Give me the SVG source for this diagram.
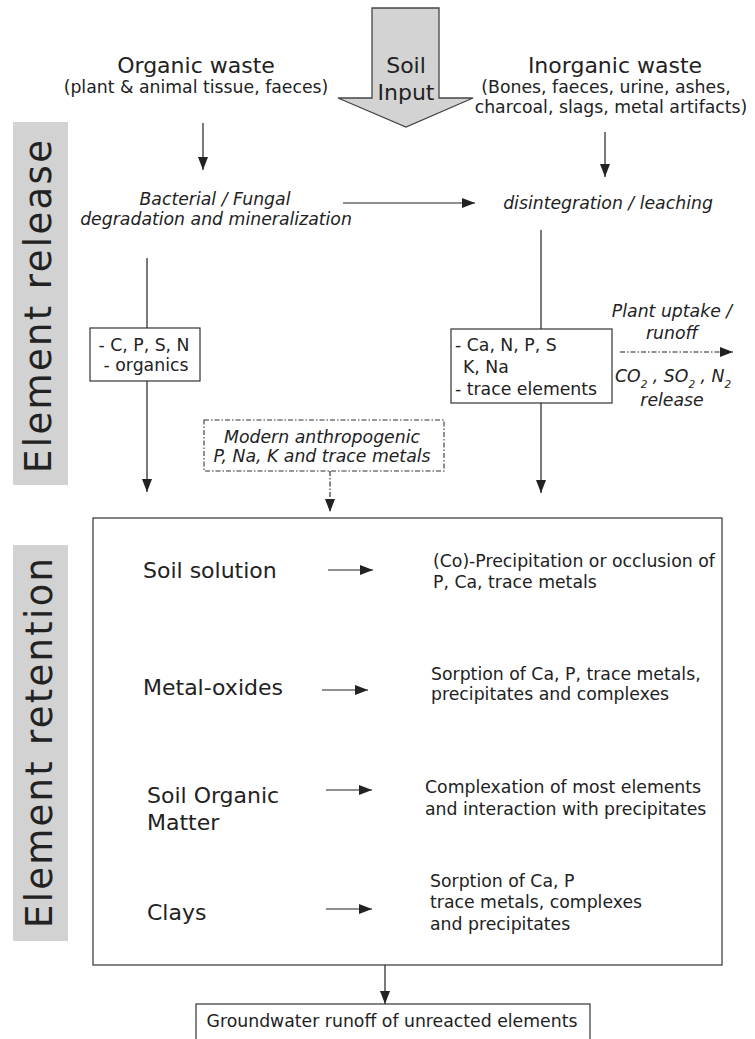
<svg xmlns="http://www.w3.org/2000/svg" width="755" height="1039" viewBox="0 0 755 1039">
<defs>
<style>
text{font-family:"DejaVu Sans","Liberation Sans",sans-serif;fill:#222;}
.h{font-size:22px;}
.s{font-size:17.3px;}
.i{font-size:17.3px;font-style:italic;}
.m{text-anchor:middle;}
.v{font-size:37px;fill:#222;}
.line{stroke:#222;stroke-width:1.2;fill:none;}
.dd{stroke:#222;stroke-width:1.1;fill:none;stroke-dasharray:5 2 1.5 2;}
.box{fill:#fff;stroke:#333;stroke-width:1.2;}
.band{fill:#d2d2d2;}
</style>
<marker id="ah" markerWidth="13" markerHeight="10" refX="13" refY="5" orient="auto" markerUnits="userSpaceOnUse"><path d="M0,0 L13,5 L0,10 z" fill="#222"/></marker>
</defs>
<rect width="755" height="1039" fill="#fff"/>

<g id="band-release"><rect class="band" x="13" y="122" width="55" height="363"/><text class="v" transform="translate(51,473) rotate(-90)" textLength="333">Element release</text></g>
<g id="band-retention"><rect class="band" x="13" y="545" width="55" height="396"/><text class="v" transform="translate(52,928) rotate(-90)" textLength="370">Element retention</text></g>

<g id="soil-input"><polygon points="372,8 439,8 439,98 473,98 406,127 338,98 372,98" fill="#d3d3d3" stroke="#444" stroke-width="1.3"/><text class="h m" x="406" y="73">Soil</text><text class="h m" x="406" y="100">Input</text></g>

<g id="organic-waste"><text class="h m" x="196" y="73">Organic waste</text><text class="s m" x="196" y="93">(plant &amp; animal tissue, faeces)</text></g>
<g id="inorganic-waste"><text class="h m" x="615" y="73">Inorganic waste</text><text class="s m" x="606" y="93">(Bones, faeces, urine, ashes,</text><text class="s m" x="611" y="113">charcoal, slags, metal artifacts)</text></g>

<g id="degradation"><text class="i m" x="215" y="205">Bacterial / Fungal</text><text class="i m" x="216" y="225">degradation and mineralization</text></g>
<g id="disintegration"><text class="i m" x="608" y="209">disintegration / leaching</text></g>

<g id="organic-elements"><rect class="box" x="90" y="328" width="110" height="53"/><text class="s m" x="144" y="351">- C, P, S, N</text><text class="s m" x="146" y="371">- organics</text></g>
<g id="inorganic-elements"><rect class="box" x="451" y="329" width="161" height="74"/><text class="s" x="455" y="351">- Ca, N, P, S</text><text class="s" x="463" y="373">K, Na</text><text class="s" x="455" y="395">- trace elements</text></g>

<g id="plant-uptake"><text class="i m" x="672" y="317">Plant uptake /</text><text class="i m" x="672" y="339">runoff</text><text class="i" x="615" y="382">CO<tspan font-size="10.5" dy="6">2</tspan><tspan dy="-6"> , SO</tspan><tspan font-size="10.5" dy="6">2</tspan><tspan dy="-6"> , N</tspan><tspan font-size="10.5" dy="6">2</tspan></text><text class="i m" x="672" y="406">release</text></g>

<g id="modern"><rect x="204" y="420" width="240" height="51" fill="#fff" stroke="#333" stroke-width="1.1" stroke-dasharray="5 2 1.5 2"/><text class="i m" x="322" y="443">Modern anthropogenic</text><text class="i m" x="322" y="462">P, Na, K and trace metals</text></g>

<g id="retention-box"><rect class="box" x="93" y="518" width="629" height="447"/>
<text class="h" x="143" y="578">Soil solution</text>
<text class="s" x="433" y="567">(Co)-Precipitation or occlusion of</text><text class="s" x="433" y="588">P, Ca, trace metals</text>
<text class="h" x="143" y="695">Metal-oxides</text>
<text class="s" x="431" y="680">Sorption of Ca, P, trace metals,</text><text class="s" x="431" y="700">precipitates and complexes</text>
<text class="h" x="147" y="803">Soil Organic</text><text class="h" x="147" y="830">Matter</text>
<text class="s" x="425" y="793">Complexation of most elements</text><text class="s" x="425" y="815">and interaction with precipitates</text>
<text class="h" x="147" y="920">Clays</text>
<text class="s" x="430" y="887">Sorption of Ca, P</text><text class="s" x="430" y="908">trace metals, complexes</text><text class="s" x="430" y="930">and precipitates</text>
</g>

<g id="groundwater"><rect class="box" x="196" y="1004" width="394" height="42"/><text class="s m" x="392" y="1027">Groundwater runoff of unreacted elements</text></g>

<g id="connectors">
<line class="line" x1="203" y1="123" x2="203" y2="170" marker-end="url(#ah)"/>
<line class="line" x1="605" y1="132" x2="605" y2="177" marker-end="url(#ah)"/>
<line class="line" x1="343" y1="203" x2="475" y2="203" marker-end="url(#ah)"/>
<line class="line" x1="147" y1="258" x2="147" y2="328"/>
<line class="line" x1="147" y1="381" x2="147" y2="492" marker-end="url(#ah)"/>
<line class="line" x1="541" y1="230" x2="541" y2="329"/>
<line class="line" x1="541" y1="403" x2="541" y2="493" marker-end="url(#ah)"/>
<line class="dd" x1="620" y1="352" x2="733" y2="352" marker-end="url(#ah)"/>
<line class="dd" x1="330" y1="471" x2="330" y2="512" marker-end="url(#ah)"/>
<line class="line" x1="328" y1="570" x2="373" y2="570" marker-end="url(#ah)"/>
<line class="line" x1="322" y1="690" x2="368" y2="690" marker-end="url(#ah)"/>
<line class="line" x1="326" y1="790" x2="372" y2="790" marker-end="url(#ah)"/>
<line class="line" x1="326" y1="909" x2="372" y2="909" marker-end="url(#ah)"/>
<line class="line" x1="385" y1="965" x2="385" y2="1004" marker-end="url(#ah)"/>
</g>
</svg>
